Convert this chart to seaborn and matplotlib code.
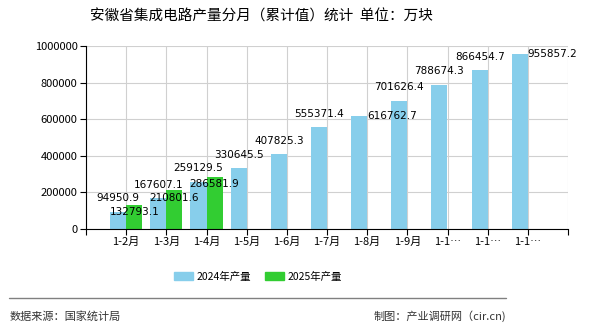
import matplotlib
matplotlib.use("Agg")
import matplotlib.pyplot as plt
import seaborn as sns
import pandas as pd
from matplotlib.patches import Patch
from matplotlib.lines import Line2D

categories = ["1-2月", "1-3月", "1-4月", "1-5月", "1-6月", "1-7月", "1-8月", "1-9月", "1-10月", "1-11月", "1-12月"]
tick_labels = ["1-2月", "1-3月", "1-4月", "1-5月", "1-6月", "1-7月", "1-8月", "1-9月", "1-1…", "1-1…", "1-1…"]
values_2024 = [94950.9, 167607.1, 259129.5, 330645.5, 407825.3, 555371.4, 616762.7, 701626.4, 788674.3, 866454.7, 955857.2]
values_2025 = [132793.1, 210801.6, 286581.9]
series_names = ["2024年产量", "2025年产量"]
colors = ["#87CEEB", "#32CD32"]
yticks = [0, 200000, 400000, 600000, 800000, 1000000]
# labels drawn beside the bar (overlap avoidance in the original)
side_labels_2024 = {"1-8月", "1-12月"}

sns.set_theme(style="white")
plt.rcParams['font.family'] = ['Noto Sans CJK SC', 'DejaVu Sans']
plt.rcParams['text.color'] = 'black'
plt.rcParams['xtick.color'] = 'black'
plt.rcParams['ytick.color'] = 'black'

rows = []
for c, v in zip(categories, values_2024):
    rows.append({"cat": c, "val": v, "series": series_names[0]})
for c, v in zip(categories, values_2025):
    rows.append({"cat": c, "val": v, "series": series_names[1]})
df = pd.DataFrame(rows)

fig = plt.figure(figsize=(5.9, 3.3), dpi=100)
ax = fig.add_axes([86/590, 101/330, 482/590, 183/330])
sns.barplot(data=df, x="cat", y="val", hue="series", order=categories,
            hue_order=series_names, palette=colors, width=0.8, ax=ax,
            legend=False, saturation=1, linewidth=0, edgecolor="none")

ax.set_xlim(-1, 11)
ax.set_ylim(0, 1000000)
ax.set_yticks(yticks)
ax.set_yticklabels([str(t) for t in yticks], fontsize=8)
ax.set_xticks(range(-1, 12))
ax.set_xticklabels([""] + tick_labels + [""], fontsize=8)
ax.set_xlabel("")
ax.set_ylabel("")
ax.grid(True, color="#d0d0d0", linewidth=0.8)
ax.set_axisbelow(True)
for s in ["top", "right"]:
    ax.spines[s].set_visible(False)
for s in ["left", "bottom"]:
    ax.spines[s].set_color("black")
    ax.spines[s].set_linewidth(0.8)
ax.tick_params(axis="both", length=4, width=0.8, color="black", labelcolor="black", direction="out", pad=2)
ax.tick_params(axis="x", bottom=True)
ax.tick_params(axis="y", left=True)

# value labels
containers = ax.containers
for bar, v, c in zip(containers[0], values_2024, categories):
    if c in side_labels_2024:
        ax.annotate(f"{v:.1f}", (bar.get_x() + bar.get_width(), bar.get_height()),
                    xytext=(0, 0), textcoords="offset points", ha="left", va="center",
                    fontsize=7.5, family="DejaVu Sans", color="black")
    else:
        ax.annotate(f"{v:.1f}", (bar.get_x() + bar.get_width()/2, bar.get_height()),
                    xytext=(0, 6), textcoords="offset points", ha="center", va="bottom",
                    fontsize=7.5, family="DejaVu Sans", color="black")
for bar, v in zip(containers[1], values_2025):
    ax.annotate(f"{v:.1f}", (bar.get_x() + bar.get_width()/2, bar.get_height()),
                xytext=(0, -2), textcoords="offset points", ha="center", va="top",
                fontsize=7.5, family="DejaVu Sans", color="black")

fig.text(261/590, 1 - 17/330, "安徽省集成电路产量分月（累计值）统计  单位：万块",
         ha="center", va="center", fontsize=10.5, color="black")

handles = [Patch(color=colors[0]), Patch(color=colors[1])]
fig.legend(handles, series_names, loc="center", bbox_to_anchor=(258/590, 1 - 277/330),
           ncol=2, frameon=False, fontsize=7.5, handlelength=1.8, handleheight=0.8,
           columnspacing=1.4, handletextpad=0.35, labelcolor="black")

fig.add_artist(Line2D([9/590, 506/590], [1 - 298/330, 1 - 298/330], color="#808080", linewidth=1))
fig.text(10/590, 1 - 316/330, "数据来源：国家统计局", ha="left", va="center", fontsize=8, color="#333333")
fig.text(506/590, 1 - 316/330, "制图：产业调研网（cir.cn)", ha="right", va="center", fontsize=8, color="#333333")

fig.savefig("out.png", dpi=100)
